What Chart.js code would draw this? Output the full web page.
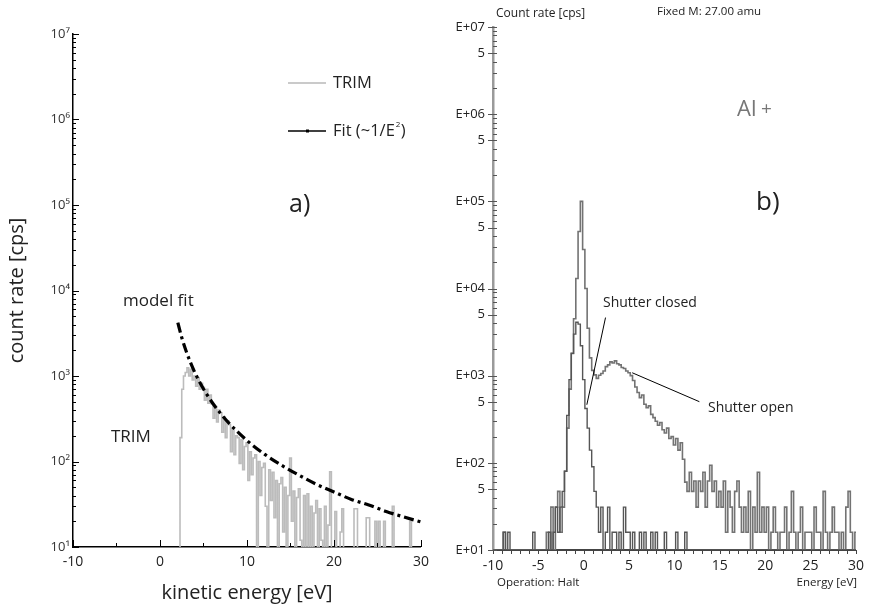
<!DOCTYPE html>
<html>
<head>
<meta charset="utf-8">
<script src="https://cdn.jsdelivr.net/npm/chart.js@4"></script>
<style>
  body { margin: 0; background: #fff; }
  #lienzo { position: relative; width: 872px; height: 608px; }
  .panel { position: absolute; top: 0; width: 436px; height: 608px; }
</style>
</head>
<body>
<div id="lienzo">
  <div class="panel" style="left:0"><canvas id="graficaTrim" width="436" height="608"></canvas></div>
  <div class="panel" style="left:436px"><canvas id="graficaShutter" width="436" height="608"></canvas></div>
</div>
<script>
// ---- panel a) TRIM + fit ----
const trimStart = 2.2, trimStep = 0.2;
const trimCounts = [
    1, 190, 700, 1000,
    1100, 1250, 1000, 1200, 900,
    1000, 760, 950, 700, 820,
    740, 520, 700, 480, 600,
    470, 320, 440, 290, 400,
    370, 220, 330, 190, 300,
    270, 130, 240, 120, 200,
    190, 95, 180, 80, 150,
    165, 60, 130, 70, 110,
    120, 1, 100, 40, 85,
    95, 30, 1, 80, 35,
    75, 22, 60, 1, 55,
    65, 15, 50, 1, 40,
    110, 20, 45, 1, 38,
    48, 12, 1, 40, 1,
    42, 1, 30, 1, 25,
    35, 1, 28, 12, 1,
    30, 1, 18, 76, 1,
    1, 26, 1, 1, 15,
    28, 1, 1, 1, 1,
    1, 1, 28, 28, 1,
    1, 1, 1, 1, 22,
    22, 1, 1, 1, 20,
    1, 20, 1, 1, 20,
    1, 1, 1, 1, 30,
    1, 1, 1, 1, 1,
    1, 1, 1, 1, 20,
    1, 1, 1, 1, 1
];
const fitEnergy = [2.05, 2.5, 3, 3.5, 4, 5, 6, 7, 8, 10, 12, 14, 16, 18, 20, 22, 24, 26, 28, 30];
const fitCounts = [4200, 2820, 1960, 1440, 1100, 705, 490, 360, 276, 176, 122, 90, 69, 54, 44, 36, 31, 26, 22.5, 19.6];

const xTicksA = [-10, 0, 10, 20, 30];
const xTickLabelsA = ['-10', '0', '10', '20', '30'];
const xMinorA = [-5, 5, 15, 25];
const decadas = [10, 100, 1000, 1e4, 1e5, 1e6, 1e7];
const yTickLabelsA = ['10\u00b9', '10\u00b2', '10\u00b3', '10\u2074', '10\u2075', '10\u2076', '10\u2077'];

// ---- panel b) shutter open / closed ----
const shutterStart = -10, shutterStep = 0.25;
const closedCounts = [
    10, 10, 10, 10, 10, 16, 10, 16, 10, 10, 10, 10, 10, 10, 10, 10, 10, 10, 16, 10,
    10, 10, 10, 10, 10, 16, 10, 16, 31, 16, 31, 47, 80, 350, 900, 1800, 3000, 4100, 3900, 2200,
    900, 420, 250, 140, 90, 47, 31, 16, 31, 10, 16, 31, 10, 16, 16, 10, 16, 10, 31, 16,
    16, 10, 16, 10, 10, 16, 10, 16, 10, 10, 16, 10, 16, 10, 10, 10, 16, 10, 10, 10,
    10, 16, 10, 10, 10, 16, 10, 10, 10, 10, 10, 10, 10, 10, 10, 10, 10, 10, 10, 10,
    10, 10, 10, 10, 10, 10, 10, 10, 10, 10, 10, 10, 10, 10, 10, 10, 10, 10, 10, 10,
    10, 10, 10, 10, 10, 10, 10, 10, 10, 10, 10, 10, 10, 10, 10, 10, 10, 10, 10, 10,
    10, 10, 10, 10, 10, 10, 10, 10, 10, 10, 10, 10, 10, 10, 10, 10, 10, 10, 10, 10,
    10
];
const openCounts = [
    10, 10, 10, 10, 10, 16, 10, 10, 10, 10, 10, 10, 10, 10, 10, 10, 10, 10, 10, 10,
    10, 10, 10, 10, 16, 10, 31, 10, 31, 47, 16, 31, 80, 250, 700, 1800, 4500, 13000, 45000, 100000,
    28000, 10000, 3500, 1600, 1150, 1020, 930, 1010, 1060, 1130, 1270, 1330, 1440, 1400, 1480, 1370, 1330, 1240, 1210, 1130,
    1080, 1000, 880, 740, 640, 560, 600, 470, 430, 450, 360, 330, 300, 270, 290, 240, 220, 250, 190, 200,
    160, 190, 140, 170, 110, 60, 47, 78, 47, 62, 31, 62, 47, 78, 31, 62, 94, 47, 62, 31,
    47, 31, 62, 16, 47, 31, 16, 47, 62, 31, 16, 31, 16, 47, 10, 31, 16, 78, 16, 31,
    16, 31, 10, 16, 31, 16, 10, 16, 16, 31, 10, 16, 47, 16, 10, 16, 31, 10, 16, 16,
    16, 10, 31, 16, 16, 10, 47, 16, 10, 16, 31, 16, 16, 10, 16, 10, 31, 47, 16, 10,
    16
];
const xTicksB = [-10, -5, 0, 5, 10, 15, 20, 25, 30];
const xTickLabelsB = ['-10', '-5', '0', '5', '10', '15', '20', '25', '30'];
const yTickLabelsB = ['E+01', 'E+02', 'E+03', 'E+04', 'E+05', 'E+06', 'E+07'];

Chart.defaults.font.family = "'Open Sans', 'Noto Sans', sans-serif";
Chart.defaults.color = '#222';

function puntos(start, step, counts) {
    return counts.map((c, i) => ({ x: +(start + i * step).toFixed(3), y: c }));
}

function ticksLog() {
    const t = [];
    decadas.forEach(d => {
        for (let m = 1; m <= 9; m++) {
            if (d * m <= 1e7) t.push({ value: d * m });
        }
    });
    return t;
}

function marcas(spec) {
    return {
        id: 'marcas',
        afterDatasetsDraw(chart) {
            const ctx = chart.ctx;
            ctx.save();
            spec.forEach(m => {
                const s = chart.scales[m.axis];
                ctx.strokeStyle = m.color;
                ctx.lineWidth = 1;
                s.ticks.forEach(t => {
                    const r = m.len(t.value);
                    const p = Math.round(s.getPixelForValue(t.value)) + 0.5;
                    ctx.beginPath();
                    if (m.axis === 'x') {
                        ctx.moveTo(p, s.top + r[0]);
                        ctx.lineTo(p, s.top + r[1]);
                    } else {
                        ctx.moveTo(s.right + r[0], p);
                        ctx.lineTo(s.right + r[1], p);
                    }
                    ctx.stroke();
                });
            });
            ctx.restore();
        }
    };
}

function texto(ctx, str, x, y, size, color, align) {
    ctx.font = size + "px 'Open Sans', sans-serif";
    ctx.fillStyle = color || '#222';
    ctx.textAlign = align || 'left';
    ctx.textBaseline = 'middle';
    ctx.fillText(str, x, y);
}

const textosTrim = {
    id: 'textosTrim',
    afterDraw(chart) {
        const ctx = chart.ctx;
        ctx.save();
        // legend
        ctx.strokeStyle = '#b9b9b9';
        ctx.lineWidth = 1.5;
        ctx.beginPath(); ctx.moveTo(288, 83); ctx.lineTo(326, 83); ctx.stroke();
        texto(ctx, 'TRIM', 333, 83, 16.5);
        ctx.strokeStyle = '#000';
        ctx.beginPath(); ctx.moveTo(288, 131); ctx.lineTo(326, 131); ctx.stroke();
        ctx.fillStyle = '#000';
        ctx.fillRect(306, 129.5, 3, 3);
        texto(ctx, 'Fit (~1/E', 333, 131, 16.5);
        let w = ctx.measureText('Fit (~1/E').width;
        texto(ctx, '2', 333 + w + 1, 125, 8);
        texto(ctx, ')', 333 + w + 6, 131, 16.5);
        texto(ctx, 'a)', 289, 205, 25);
        texto(ctx, 'model fit', 123, 301, 17);
        texto(ctx, 'TRIM', 111, 437, 17);
        ctx.restore();
    }
};

const textosShutter = {
    id: 'textosShutter',
    afterDraw(chart) {
        const ctx = chart.ctx;
        const x = chart.scales.x, y = chart.scales.y;
        ctx.save();
        texto(ctx, 'Count rate [cps]', 60, 14, 12);
        texto(ctx, 'Fixed M: 27.00 amu', 221, 12, 11.5);
        texto(ctx, 'Al', 301, 110, 22, '#777');
        texto(ctx, '+', 325, 110, 19, '#777');
        texto(ctx, 'b)', 320, 203, 26);
        texto(ctx, 'Shutter closed', 167, 303, 14);
        texto(ctx, 'Shutter open', 272, 408, 14);
        texto(ctx, 'Operation: Halt', 61, 583, 11.5);
        texto(ctx, 'Energy [eV]', 421, 583, 11.5, '#222', 'right');
        ctx.strokeStyle = '#000';
        ctx.lineWidth = 1;
        ctx.beginPath();
        ctx.moveTo(x.getPixelForValue(2.4), y.getPixelForValue(4640));
        ctx.lineTo(x.getPixelForValue(0.34), y.getPixelForValue(464));
        ctx.moveTo(x.getPixelForValue(5.34), y.getPixelForValue(1080));
        ctx.lineTo(x.getPixelForValue(12.74), y.getPixelForValue(503));
        ctx.stroke();
        ctx.restore();
    }
};

document.addEventListener('DOMContentLoaded', function() {

    const ctxTrim = document.getElementById('graficaTrim');
    if (ctxTrim) {
        new Chart(ctxTrim, {
            type: 'line',
            data: {
                datasets: [{
                    label: 'Fit (~1/E²)',
                    data: fitEnergy.map((e, i) => ({ x: e, y: fitCounts[i] })),
                    borderColor: '#000',
                    borderWidth: 3.2,
                    borderDash: [10, 4, 3, 4],
                    pointRadius: 0,
                    cubicInterpolationMode: 'monotone',
                    order: 1
                }, {
                    label: 'TRIM',
                    data: puntos(trimStart, trimStep, trimCounts),
                    borderColor: '#bcbcbc',
                    borderWidth: 1.6,
                    pointRadius: 0,
                    stepped: 'middle',
                    order: 2
                }]
            },
            options: {
                responsive: false,
                animation: false,
                layout: { padding: { top: 34, right: 14, left: 0, bottom: 0 } },
                scales: {
                    x: {
                        type: 'linear',
                        min: -10,
                        max: 30,
                        afterFit: s => { s.height = 61; },
                        afterBuildTicks: s => { s.ticks = xTicksA.concat(xMinorA).sort((a, b) => a - b).map(v => ({ value: v })); },
                        ticks: {
                            autoSkip: false,
                            maxRotation: 0,
                            padding: 7,
                            font: { size: 14 },
                            callback: v => { const i = xTicksA.indexOf(v); return i >= 0 ? xTickLabelsA[i] : ''; }
                        },
                        grid: { display: false, drawTicks: false },
                        border: { display: true, color: '#000', width: 1.5 },
                        title: { display: true, text: 'kinetic energy [eV]', font: { size: 20 }, padding: { top: 0, bottom: 3 } }
                    },
                    y: {
                        type: 'logarithmic',
                        min: 10,
                        max: 1e7,
                        afterFit: s => { s.width = 73; },
                        afterBuildTicks: s => { s.ticks = ticksLog(); },
                        ticks: {
                            autoSkip: false,
                            padding: 3,
                            font: { size: 13 },
                            color: '#333',
                            callback: v => { const i = decadas.indexOf(v); return i >= 0 ? yTickLabelsA[i] : ''; }
                        },
                        grid: { display: false, drawTicks: false },
                        border: { display: true, color: '#000', width: 1.5 },
                        title: { display: true, text: 'count rate [cps]', font: { size: 20 }, padding: { top: 5, bottom: 0 } }
                    }
                },
                plugins: {
                    legend: { display: false },
                    tooltip: { enabled: false }
                }
            },
            plugins: [marcas([
                { axis: 'x', color: '#000', len: v => xTicksA.includes(v) ? [0, -7] : [0, -4] },
                { axis: 'y', color: '#000', len: v => decadas.includes(v) ? [0, 6] : [0, 3] }
            ]), textosTrim]
        });
    }

    const ctxShutter = document.getElementById('graficaShutter');
    if (ctxShutter) {
        new Chart(ctxShutter, {
            type: 'line',
            data: {
                datasets: [{
                    label: 'Shutter closed',
                    data: puntos(shutterStart, shutterStep, closedCounts),
                    borderColor: '#555',
                    borderWidth: 1.4,
                    pointRadius: 0,
                    stepped: 'middle'
                }, {
                    label: 'Shutter open',
                    data: puntos(shutterStart, shutterStep, openCounts),
                    borderColor: '#737373',
                    borderWidth: 1.6,
                    pointRadius: 0,
                    stepped: 'middle'
                }]
            },
            options: {
                responsive: false,
                animation: false,
                layout: { padding: { top: 27, right: 11, left: 0, bottom: 0 } },
                scales: {
                    x: {
                        type: 'linear',
                        min: -10,
                        max: 30,
                        afterFit: s => { s.height = 58; },
                        afterBuildTicks: s => {
                            const t = [];
                            for (let v = -10; v <= 30; v++) t.push({ value: v });
                            s.ticks = t;
                        },
                        ticks: {
                            autoSkip: false,
                            maxRotation: 0,
                            padding: 8,
                            font: { size: 14 },
                            callback: v => { const i = xTicksB.indexOf(v); return i >= 0 ? xTickLabelsB[i] : ''; }
                        },
                        grid: { display: false, drawTicks: false },
                        border: { display: true, color: '#444', width: 2 }
                    },
                    y: {
                        type: 'logarithmic',
                        min: 10,
                        max: 1e7,
                        afterFit: s => { s.width = 57; },
                        afterBuildTicks: s => { s.ticks = ticksLog(); },
                        ticks: {
                            autoSkip: false,
                            padding: 8,
                            font: { size: 13 },
                            callback: v => {
                                const i = decadas.indexOf(v);
                                if (i >= 0) return yTickLabelsB[i];
                                return decadas.includes(v / 5) ? '5' : '';
                            }
                        },
                        grid: { display: false, drawTicks: false },
                        border: { display: true, color: '#9a9a9a', width: 2.5 }
                    }
                },
                plugins: {
                    legend: { display: false },
                    tooltip: { enabled: false }
                }
            },
            plugins: [marcas([
                { axis: 'x', color: '#444', len: v => [0, 4] },
                { axis: 'y', color: '#555', len: v => (decadas.includes(v) || decadas.includes(v / 5)) ? [-5, 4] : [0, 4] }
            ]), textosShutter]
        });
    }
});
</script>
</body>
</html>
